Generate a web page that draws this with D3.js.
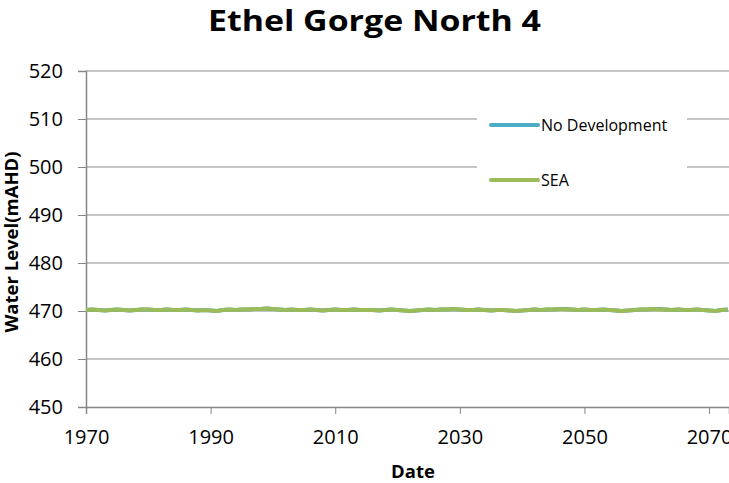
<!DOCTYPE html>
<html>
<head>
<meta charset="utf-8">
<script src="https://cdn.jsdelivr.net/npm/d3@7"></script>
<style>
  body { margin: 0; background: #fff; }
  text { font-family: "Open Sans", sans-serif; fill: #000; }
</style>
</head>
<body>
<div id="chart"></div>
<script>
var width = 729, height = 483;

// years of the simulated record
var startYear = 1970;
var yTicks = [450, 460, 470, 480, 490, 500, 510, 520];
var xTicks = [1970, 1990, 2010, 2030, 2050, 2070];

// water level (mAHD), one value per year
var noDevelopment = [
  470.2, 470.3, 470.2, 470.1, 470.2, 470.3, 470.2, 470.1, 470.2, 470.3,
  470.3, 470.2, 470.2, 470.3, 470.2, 470.2, 470.3, 470.2, 470.1, 470.2,
  470.1, 470.0, 470.2, 470.3, 470.2, 470.3, 470.3, 470.4, 470.4, 470.5,
  470.4, 470.3, 470.2, 470.3, 470.2, 470.2, 470.3, 470.2, 470.1, 470.2,
  470.3, 470.2, 470.2, 470.3, 470.2, 470.2, 470.2, 470.1, 470.2, 470.3,
  470.2, 470.1, 470.0, 470.1, 470.2, 470.3, 470.2, 470.3, 470.3, 470.4,
  470.3, 470.2, 470.2, 470.3, 470.2, 470.1, 470.2, 470.2, 470.1, 470.0,
  470.1, 470.2, 470.3, 470.2, 470.3, 470.3, 470.4, 470.4, 470.3, 470.2,
  470.3, 470.2, 470.2, 470.3, 470.2, 470.1, 470.0, 470.1, 470.2, 470.3,
  470.3, 470.4, 470.4, 470.3, 470.2, 470.3, 470.2, 470.2, 470.3, 470.2,
  470.1, 470.0, 470.2, 470.3
];
var sea = [
  470.2, 470.3, 470.2, 470.1, 470.2, 470.3, 470.2, 470.1, 470.2, 470.3,
  470.3, 470.2, 470.2, 470.3, 470.2, 470.2, 470.3, 470.2, 470.1, 470.2,
  470.1, 470.0, 470.2, 470.3, 470.2, 470.3, 470.3, 470.4, 470.4, 470.5,
  470.4, 470.3, 470.2, 470.3, 470.2, 470.2, 470.3, 470.2, 470.1, 470.2,
  470.3, 470.2, 470.2, 470.3, 470.2, 470.2, 470.2, 470.1, 470.2, 470.3,
  470.2, 470.1, 470.0, 470.1, 470.2, 470.3, 470.2, 470.3, 470.3, 470.4,
  470.3, 470.2, 470.2, 470.3, 470.2, 470.1, 470.2, 470.2, 470.1, 470.0,
  470.1, 470.2, 470.3, 470.2, 470.3, 470.3, 470.4, 470.3, 470.3, 470.2,
  470.3, 470.2, 470.2, 470.3, 470.2, 470.1, 470.0, 470.1, 470.2, 470.3,
  470.3, 470.4, 470.3, 470.3, 470.2, 470.3, 470.2, 470.2, 470.3, 470.2,
  470.1, 470.0, 470.2, 470.3
];

var seriesNames = ["No Development", "SEA"];
var seriesColors = ["#4bacc6", "#9bbb59"];

var svg = d3.select("#chart").append("svg")
  .attr("width", width)
  .attr("height", height);

var x = d3.scaleLinear().domain([1970, 2073.2]).range([86, 729]);
var y = d3.scaleLinear().domain([450, 520]).range([407, 71]);

// title
svg.append("text")
  .attr("x", 208).attr("y", 31)
  .attr("textLength", 333).attr("lengthAdjust", "spacingAndGlyphs")
  .style("font-size", "28px").style("font-weight", "bold")
  .text("Ethel Gorge North 4");

// gridlines
svg.append("g").selectAll("line")
  .data(yTicks.slice(1))
  .enter().append("line")
  .attr("x1", 86).attr("x2", width)
  .attr("y1", function(d) { return y(d); })
  .attr("y2", function(d) { return y(d); })
  .attr("stroke", "#8c8c8c").attr("stroke-width", 1);

// y axis
var yAxis = svg.append("g")
  .attr("transform", "translate(86,0)")
  .call(d3.axisLeft(y).tickValues(yTicks).tickSize(8).tickPadding(15));

// x axis
var xAxis = svg.append("g")
  .attr("transform", "translate(0,407)")
  .call(d3.axisBottom(x).tickValues(xTicks).tickFormat(d3.format("d")).tickSize(7).tickPadding(16));

[yAxis, xAxis].forEach(function(a) {
  a.select(".domain").attr("stroke", "#868686").attr("stroke-width", 1.5);
  a.selectAll(".tick line").attr("stroke", "#868686");
  a.selectAll(".tick text").style("font-size", "20px").attr("fill", "#000");
});

// series
var line = d3.line()
  .x(function(d, i) { return x(startYear + i); })
  .y(function(d) { return y(d); });

[noDevelopment, sea].forEach(function(s, k) {
  svg.append("path")
    .datum(s)
    .attr("d", line)
    .attr("fill", "none")
    .attr("stroke", seriesColors[k])
    .attr("stroke-width", 4);
});

// legend
var legend = svg.append("g").attr("transform", "translate(477,100)");
legend.append("rect")
  .attr("width", 210).attr("height", 110)
  .attr("fill", "#fff");
seriesNames.forEach(function(n, i) {
  var g = legend.append("g").attr("transform", "translate(0," + (25 + i * 55) + ")");
  g.append("line")
    .attr("x1", 14).attr("x2", 61)
    .attr("stroke", seriesColors[i]).attr("stroke-width", 4)
    .attr("stroke-linecap", "round");
  g.append("text")
    .attr("x", 64).attr("y", 6)
    .style("font-size", "16px")
    .text(n);
});

// axis titles
svg.append("text")
  .attr("x", 413).attr("y", 478)
  .attr("text-anchor", "middle")
  .style("font-size", "18.5px").style("font-weight", "bold")
  .text("Date");

svg.append("text")
  .attr("transform", "translate(18,242) rotate(-90)")
  .attr("text-anchor", "middle")
  .style("font-size", "18.5px").style("font-weight", "bold")
  .text("Water Level(mAHD)");
</script>
</body>
</html>
